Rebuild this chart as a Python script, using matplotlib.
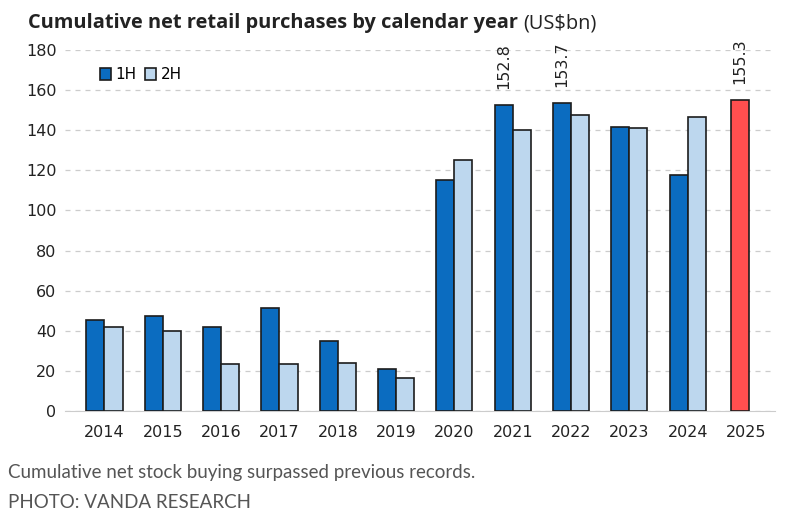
import matplotlib.pyplot as plt
import numpy as np

# values (US$bn)
years = ["2014", "2015", "2016", "2017", "2018", "2019", "2020", "2021", "2022", "2023", "2024", "2025"]
first_half = [45.5, 47.5, 42, 51.2, 35, 20.8, 115, 152.8, 153.7, 141.6, 117.6]
second_half = [42, 40, 23.3, 23.3, 24, 16.6, 125.3, 140, 147.5, 141, 146.6]
ytd_2025 = 155.3
labelled = {"2021": 152.8, "2022": 153.7, "2025": 155.3}

c1 = "#0B6CC0"
c2 = "#BDD7EE"
cred = "#FF4F4F"
edge = "#1c1c1c"

fig = plt.figure(figsize=(8, 5.14), dpi=100)
ax = fig.add_axes([0.081, 0.2004, 0.888, 0.7023])

x = np.arange(len(years))
w = 0.31
ax.bar(x[:-1] - w / 2, first_half, w, color=c1, edgecolor=edge, linewidth=1.2, label="1H", zorder=3)
ax.bar(x[:-1] + w / 2, second_half, w, color=c2, edgecolor=edge, linewidth=1.2, label="2H", zorder=3)
ax.bar(x[-1] - 0.1, ytd_2025, w, color=cred, edgecolor=edge, linewidth=1.2, zorder=3)

# rotated value labels above the record bars
for yr, val in labelled.items():
    i = years.index(yr)
    xpos = x[i] - w / 2 if yr != "2025" else x[i] - 0.1
    ax.annotate(f"{val}", (xpos, val), xytext=(0, 11.5), textcoords="offset points",
                rotation=90, ha="center", va="bottom", fontsize=11.5, color="#222222",
                annotation_clip=False)

ax.set_ylim(0, 180)
ax.set_xlim(-0.68, 11.5)
ax.set_yticks(range(0, 181, 20))
ax.set_xticks(x)
ax.set_xticklabels(years)
ax.tick_params(length=0, labelsize=11.5, labelcolor="#222222")
ax.tick_params(axis="y", pad=6)
ax.tick_params(axis="x", pad=10)
ax.grid(axis="y", color="#cccccc", linestyle=(0, (4, 4)), linewidth=0.9, zorder=0)
for s in ["top", "right", "left"]:
    ax.spines[s].set_visible(False)
ax.spines["bottom"].set_color("#cccccc")

leg = ax.legend(loc="upper left", bbox_to_anchor=(0.03, 0.99), ncol=2, frameon=False,
                fontsize=11, handlelength=0.7, handleheight=0.9, handletextpad=0.3,
                columnspacing=0.6)

t1 = fig.text(28 / 800, 0.955, "Cumulative net retail purchases by calendar year",
              fontsize=14.4, fontweight="bold", family="Open Sans", color="#222222", va="center")
fig.canvas.draw()
bb = t1.get_window_extent(fig.canvas.get_renderer())
fig.text(bb.x1 / 800 + 0.007, 0.955, "(US\\$bn)", fontsize=14.4, family="Open Sans",
         color="#222222", va="center")

fig.text(0.01, 0.08, "Cumulative net stock buying surpassed previous records.",
         fontsize=13.5, family="Lato", color="#555555", va="center")
fig.text(0.01, 0.022, "PHOTO: VANDA RESEARCH",
         fontsize=13.5, family="Lato", color="#555555", va="center")

fig.savefig("out.png", dpi=100)
